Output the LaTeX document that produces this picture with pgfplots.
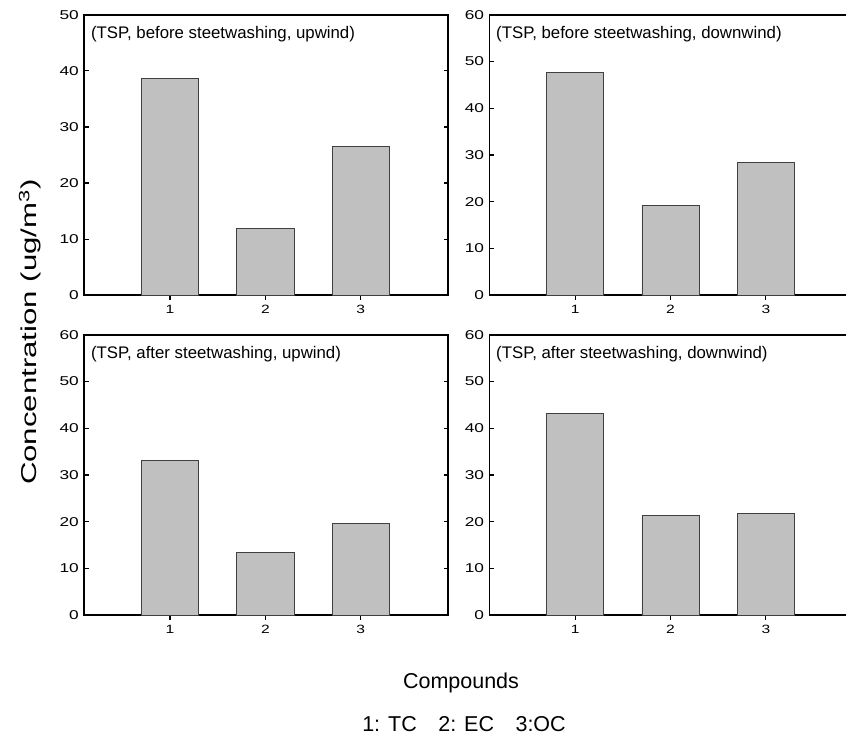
\documentclass[border=0pt]{standalone}
\usepackage{fontspec}
\setmainfont{Liberation Sans}
\usepackage{graphicx}
\usepackage{pgfplots}
\pgfplotsset{compat=1.18}
\definecolor{barfill}{HTML}{C0C0C0}
\definecolor{baredge}{HTML}{404040}
\pgfplotsset{
  panel/.style={
    scale only axis, width=364pt, height=280.6pt,
    xmin=0.1, xmax=3.92, ymin=0,
    axis line style={line width=1.8pt},
    xtick={1,2,3}, xtick pos=bottom, xtick align=outside,
    ytick pos=both, ytick align=inside,
    major tick length=4.5pt,
    tick style={black, line width=1.2pt},
    /pgf/number format/assume math mode=true,
    xticklabel style={yshift=-1.5pt},
    yticklabel style={xshift=-2pt},
    xticklabel={\fontsize{12}{14}\selectfont\scalebox{1.3}[1]{\pgfmathprintnumber[assume math mode=true]{\tick}}},
    yticklabel={\fontsize{12.8}{14}\selectfont\scalebox{1.35}[1]{\pgfmathprintnumber[assume math mode=true]{\tick}}},
    ybar, bar width=0.6,
    clip=false,
  },
  bars/.style={fill=barfill, draw=baredge, line width=0.8pt},
}
\newcommand{\paneltitle}[1]{\node[anchor=base west, inner sep=0pt, font=\fontsize{16.8}{20}\selectfont] at ([xshift=6.5pt,yshift=-23.3pt]rel axis cs:0,1) {#1};}
\begin{document}
\begin{tikzpicture}
\path[use as bounding box] (0pt,0pt) rectangle (846pt,-740pt);
\clip (0pt,0pt) rectangle (846pt,-740pt);
% top left
\begin{axis}[panel, at={(84.3pt,-14.7pt)}, anchor=north west, ymax=50, ytick={0,10,...,50}]
\addplot[bars] coordinates {(1,38.6) (2,11.9) (3,26.5)};
\paneltitle{(TSP, before steetwashing, upwind)}
\end{axis}
% top right
\begin{axis}[panel, at={(489.5pt,-14.7pt)}, anchor=north west, ymax=60, ytick={0,10,...,60}]
\addplot[bars] coordinates {(1,47.7) (2,19.2) (3,28.4)};
\paneltitle{(TSP, before steetwashing, downwind)}
\end{axis}
% bottom left
\begin{axis}[panel, at={(84.3pt,-334.7pt)}, anchor=north west, ymax=60, ytick={0,10,...,60}]
\addplot[bars] coordinates {(1,33.2) (2,13.5) (3,19.6)};
\paneltitle{(TSP, after steetwashing, upwind)}
\end{axis}
% bottom right
\begin{axis}[panel, at={(489.5pt,-334.7pt)}, anchor=north west, ymax=60, ytick={0,10,...,60}]
\addplot[bars] coordinates {(1,43.1) (2,21.4) (3,21.7)};
\paneltitle{(TSP, after steetwashing, downwind)}
\end{axis}
\node[anchor=base, inner sep=0pt, font=\fontsize{21.5}{24}\selectfont] at (461pt,-688.3pt) {Compounds};
\node[anchor=base, inner sep=0pt, font=\fontsize{21.5}{24}\selectfont] at (464pt,-731.7pt) {1: TC\hspace{21.5pt}2: EC\hspace{21.5pt}3:OC};
\node[rotate=90, inner sep=0pt, font=\fontsize{21.5}{24}\selectfont] at (30pt,-332pt) {\scalebox{1.45}[1]{Concentration (ug/m\textsuperscript{3})}};
\end{tikzpicture}
\end{document}
